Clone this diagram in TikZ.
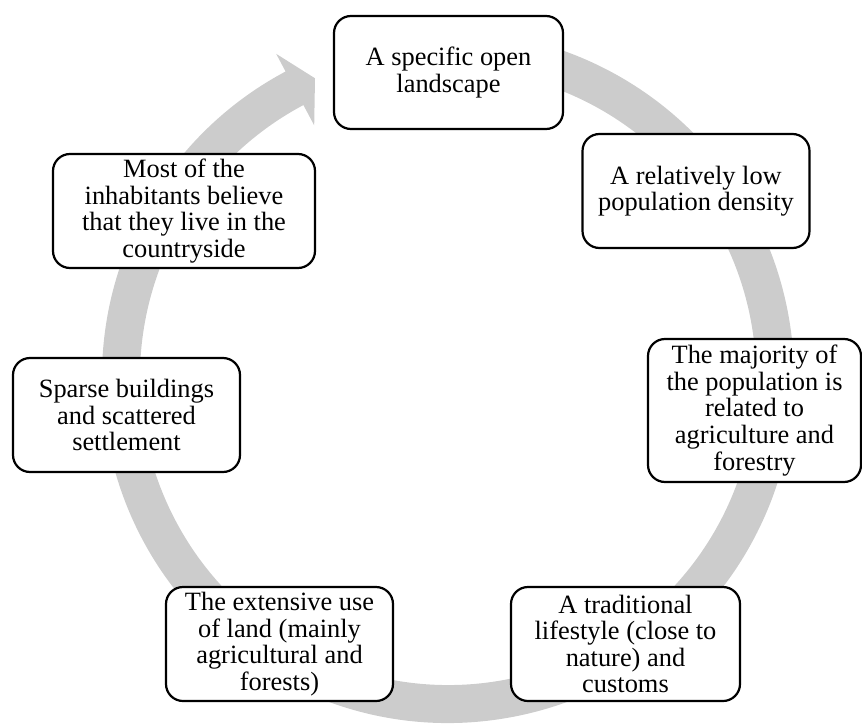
\documentclass[tikz,border=0pt]{standalone}
\usepackage{fontspec}
\setmainfont{Liberation Serif}
\definecolor{ringgray}{RGB}{204,204,204}
\begin{document}
\begin{tikzpicture}[x=1pt,y=-1pt,
  stagebox/.style={draw=black, line width=2.2pt, fill=white,
    rounded corners=17pt, align=center, inner sep=0pt,
    font=\fontsize{26.4pt}{26.6pt}\selectfont}]
\useasboundingbox (0,0) rectangle (862,725);

% circular arrow running clockwise behind the stages
\coordinate (hub) at (448,377);
\fill[ringgray]
  ([shift={(hub)}]-100:346) arc[start angle=-100, end angle=242, radius=346]
  -- ([shift={(hub)}]242:366)
  -- ([shift={(hub)}]246:327)
  -- ([shift={(hub)}]242:285)
  -- ([shift={(hub)}]242:308)
  arc[start angle=242, end angle=-100, radius=308] -- cycle;

% stages
\node[stagebox, minimum width=229, minimum height=113] (open) at (448.5,72.5)
  {A specific open\\landscape};
\node[stagebox, minimum width=227, minimum height=114] (density) at (696,191)
  {A relatively low\\population density};
\node[stagebox, minimum width=213, minimum height=143] (agri) at (754.5,410.5)
  {The majority of\\the population is\\related to\\agriculture and\\forestry};
\node[stagebox, minimum width=229, minimum height=114] (lifestyle) at (625.5,644)
  {A traditional\\lifestyle (close to\\nature) and\\customs};
\node[stagebox, minimum width=227, minimum height=114] (landuse) at (279.5,644)
  {The extensive use\\of land (mainly\\agricultural and\\forests)};
\node[stagebox, minimum width=227, minimum height=114] (sparse) at (126.5,415)
  {Sparse buildings\\and scattered\\settlement};
\node[stagebox, minimum width=262, minimum height=114] (belief) at (184,211)
  {Most of the\\inhabitants believe\\that they live in the\\countryside};
\end{tikzpicture}
\end{document}
